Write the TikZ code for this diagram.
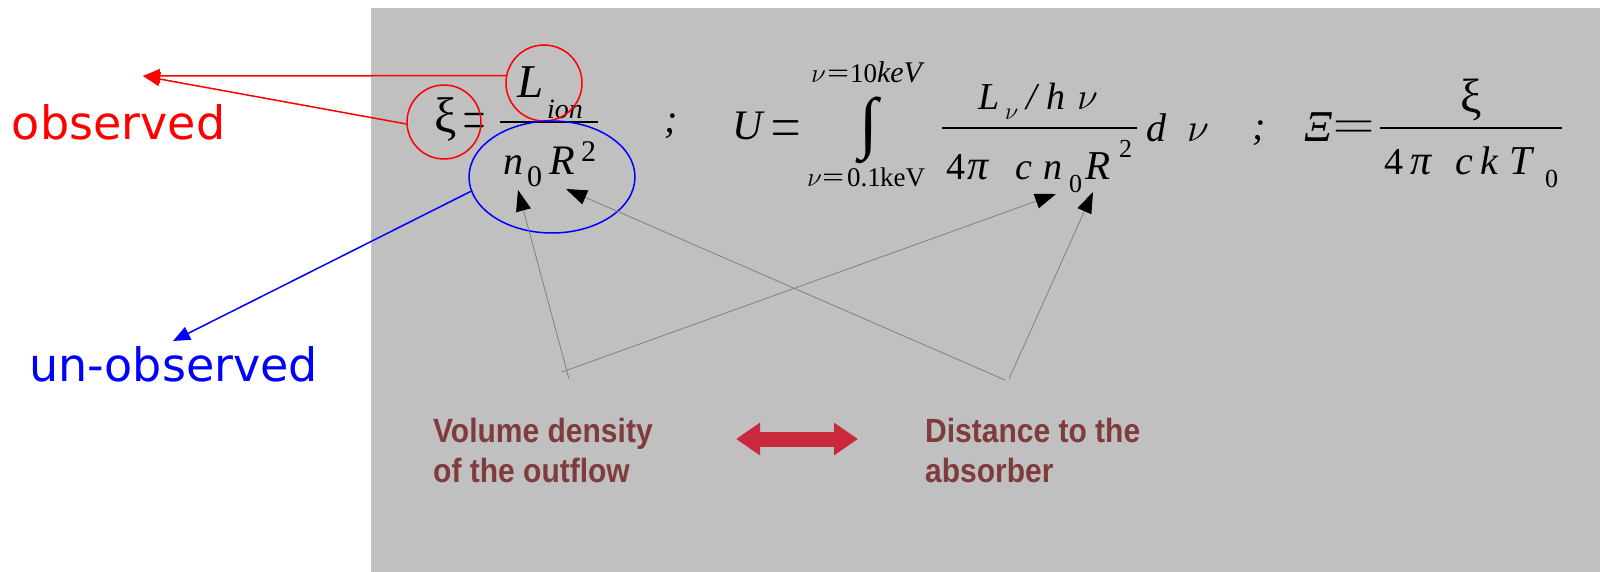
\RequirePackage{fix-cm}
\documentclass[tikz,border=0pt]{standalone}
\usepackage{fontspec}
\usepackage{graphicx}
\setmainfont{Liberation Serif}
\newfontfamily\dvs{DejaVu Sans}
\newfontfamily\lsans{Liberation Sans}
\usetikzlibrary{arrows.meta,shapes.geometric}
\newcommand{\myfs}[1]{\fontsize{#1}{#1}\selectfont}
\newcommand{\tallline}[1]{\scalebox{1}[1.12]{#1}}
\definecolor{bggray}{RGB}{191,192,191}
\definecolor{labbrown}{RGB}{128,60,60}
\definecolor{crim}{RGB}{202,40,60}
\definecolor{pgray}{RGB}{128,128,128}
\tikzset{
  T/.style={anchor=base west, inner sep=0pt, outer sep=0pt},
  I/.style={T, font=\itshape},
  EQ/.style={anchor=base, inner sep=0pt, outer sep=0pt},
  fracbar/.style={line width=2pt},
  ptr/.style={pgray, line width=0.8pt, -{Triangle[length=21pt,width=15pt,color=black]}},
  obsline/.style={red, line width=1.5pt, -{Triangle[length=17pt,width=14pt]}},
  unobsline/.style={blue, line width=1.5pt, -{Triangle[length=17pt,width=14pt]}},
  lab/.style={anchor=base west, inner sep=0pt, align=left, text=labbrown, font=\lsans\bfseries\fontsize{30}{40}\selectfont},
}
\begin{document}
\begin{tikzpicture}[x=1pt,y=-1pt]
\useasboundingbox (0,0) rectangle (1600,572);
\fill[bggray] (371,8) rectangle (1600,572);

% ---------- equation 1 ----------
\node[T, font=\myfs{50}] (xi1) at (434,133) {ξ};
\node[EQ, font=\myfs{68}] (eqA) at (475,138) {\scalebox{0.45}[1]{$=$}};
\draw[fracbar] (500,122) -- (598,122);
\node[I, font=\itshape\myfs{47}] (L1) at (517,98) {L};
\node[I, font=\itshape\myfs{28}] (ion) at (547,119) {ion};
\node[I, font=\itshape\myfs{40}] (n1) at (503,175) {n};
\node[T, font=\myfs{30}] (z1) at (527,187) {0};
\node[I, font=\itshape\myfs{42}] (R1) at (549,175) {R};
\node[T, font=\myfs{30}] (s1) at (581,162) {2};
\node[I, font=\itshape\myfs{40}] (sc1) at (664,133) {;};

% ---------- equation 2 ----------
\node[I, font=\itshape\myfs{42}] (U) at (732,140) {U};
\node[EQ, font=\myfs{70}] (eqB) at (786.5,145.5) {\scalebox{0.58}[1]{$=$}};
\node[font=\myfs{68}, inner sep=0pt] (int) at (869,130) {∫};
\node[T, font=\myfs{27}] (nuU) at (811,83) {$\nu$};
\node[T, font=\myfs{27}] (eqU) at (827,83) {\scalebox{1.45}[1]{=}};
\node[T, font=\myfs{27}] (tenU) at (850,83) {10};
\node[I, font=\itshape\myfs{30}] (kevU) at (877,83) {keV};
\node[T, font=\myfs{27}] (nuL) at (807,187) {$\nu$};
\node[T, font=\myfs{27}] (eqL) at (822,187) {\scalebox{1.45}[1]{=}};
\node[T, font=\myfs{27}] (ptL) at (847,187) {0.1};
\node[T, font=\myfs{27}] (kevL) at (880,187) {keV};
\draw[fracbar] (942,128) -- (1137,128);
\node[I, font=\itshape\myfs{38}] (L2) at (978,110) {L};
\node[T, font=\myfs{24}] (nus) at (1005,120) {$\nu$};
\node[I, font=\itshape\myfs{38}] (sl) at (1026,110) {/};
\node[I, font=\itshape\myfs{38}] (h2) at (1046,110) {h};
\node[T, font=\myfs{38}] (nu2) at (1077,110) {$\nu$};
\node[T, font=\myfs{38}] (four2) at (946,180) {4};
\node[I, font=\itshape\myfs{42}] (pi2) at (967,180) {π};
\node[I, font=\itshape\myfs{38}] (c2) at (1015,180) {c};
\node[I, font=\itshape\myfs{38}] (n2) at (1043,180) {n};
\node[T, font=\myfs{26}] (z2) at (1069,193) {0};
\node[I, font=\itshape\myfs{41}] (R2) at (1085,180) {R};
\node[T, font=\myfs{26}] (s2) at (1119,158) {2};
\node[I, font=\itshape\myfs{40}] (d2) at (1146,142) {d};
\node[T, font=\myfs{40}] (dnu) at (1187,142) {$\nu$};
\node[I, font=\itshape\myfs{40}] (sc2) at (1252,140) {;};

% ---------- equation 3 ----------
\node[I, font=\itshape\myfs{44}] (Xi) at (1304,142) {Ξ};
\node[EQ, font=\myfs{52}] (eqC) at (1354,140) {\scalebox{1.1}[1]{$=$}};
\draw[fracbar] (1380,128) -- (1562,128);
\node[T, font=\myfs{48}] (xi3) at (1460,113) {ξ};
\node[T, font=\myfs{38}] (four3) at (1384,175) {4};
\node[I, font=\itshape\myfs{42}] (pi3) at (1410,175) {π};
\node[I, font=\itshape\myfs{40}] (c3) at (1455,175) {c};
\node[I, font=\itshape\myfs{40}] (k3) at (1480,175) {k};
\node[I, font=\itshape\myfs{41}] (T3) at (1509,175) {T};
\node[T, font=\myfs{26}] (z3) at (1545,188) {0};

% ---------- annotations ----------
\node[circle, draw=red, line width=1.5pt, minimum size=76pt, inner sep=0pt] (cL) at (544,83) {};
\node[circle, draw=red, line width=1.5pt, minimum size=74pt, inner sep=0pt] (cX) at (444,122) {};
\node[ellipse, draw=blue, line width=1.5pt, minimum width=166pt, minimum height=112pt, inner sep=0pt] (ell) at (552,177) {};

\node[T, font=\dvs\myfs{46}, text=red] (obs) at (12,140) {observed};
\node[T, font=\dvs\myfs{46}, text=blue] (unobs) at (29,381) {un-observed};
\coordinate (obsTip) at (143,76);
\coordinate (unobsTip) at (173,341);
\draw[obsline] (cL.169) -- (obsTip);
\draw[obsline] (cX.183) -- (obsTip);
\draw[unobsline] (ell.190) -- (unobsTip);

% pointers
\coordinate (pA) at (569,379);
\coordinate (pB) at (562,372);
\coordinate (pC) at (1005,380);
\coordinate (pD) at (1009,379);
\coordinate (tA) at (518,190);
\coordinate (tB) at (1056,194);
\coordinate (tC) at (566,189);
\coordinate (tD) at (1093,192);
\draw[ptr] (pA) -- (tA);
\draw[ptr] (pB) -- (tB);
\draw[ptr] (pC) -- (tC);
\draw[ptr] (pD) -- (tD);

% bottom labels
\node[lab] (vol) at (433,482) {\tallline{Volume density}\\\tallline{of the outflow}};
\node[lab] (dist) at (925,482) {\tallline{Distance to the}\\\tallline{absorber}};
\draw[crim, line width=15pt, {Triangle[length=24pt,width=31pt]}-{Triangle[length=24pt,width=31pt]}] (736,439) -- (858,439);
\end{tikzpicture}
\end{document}
